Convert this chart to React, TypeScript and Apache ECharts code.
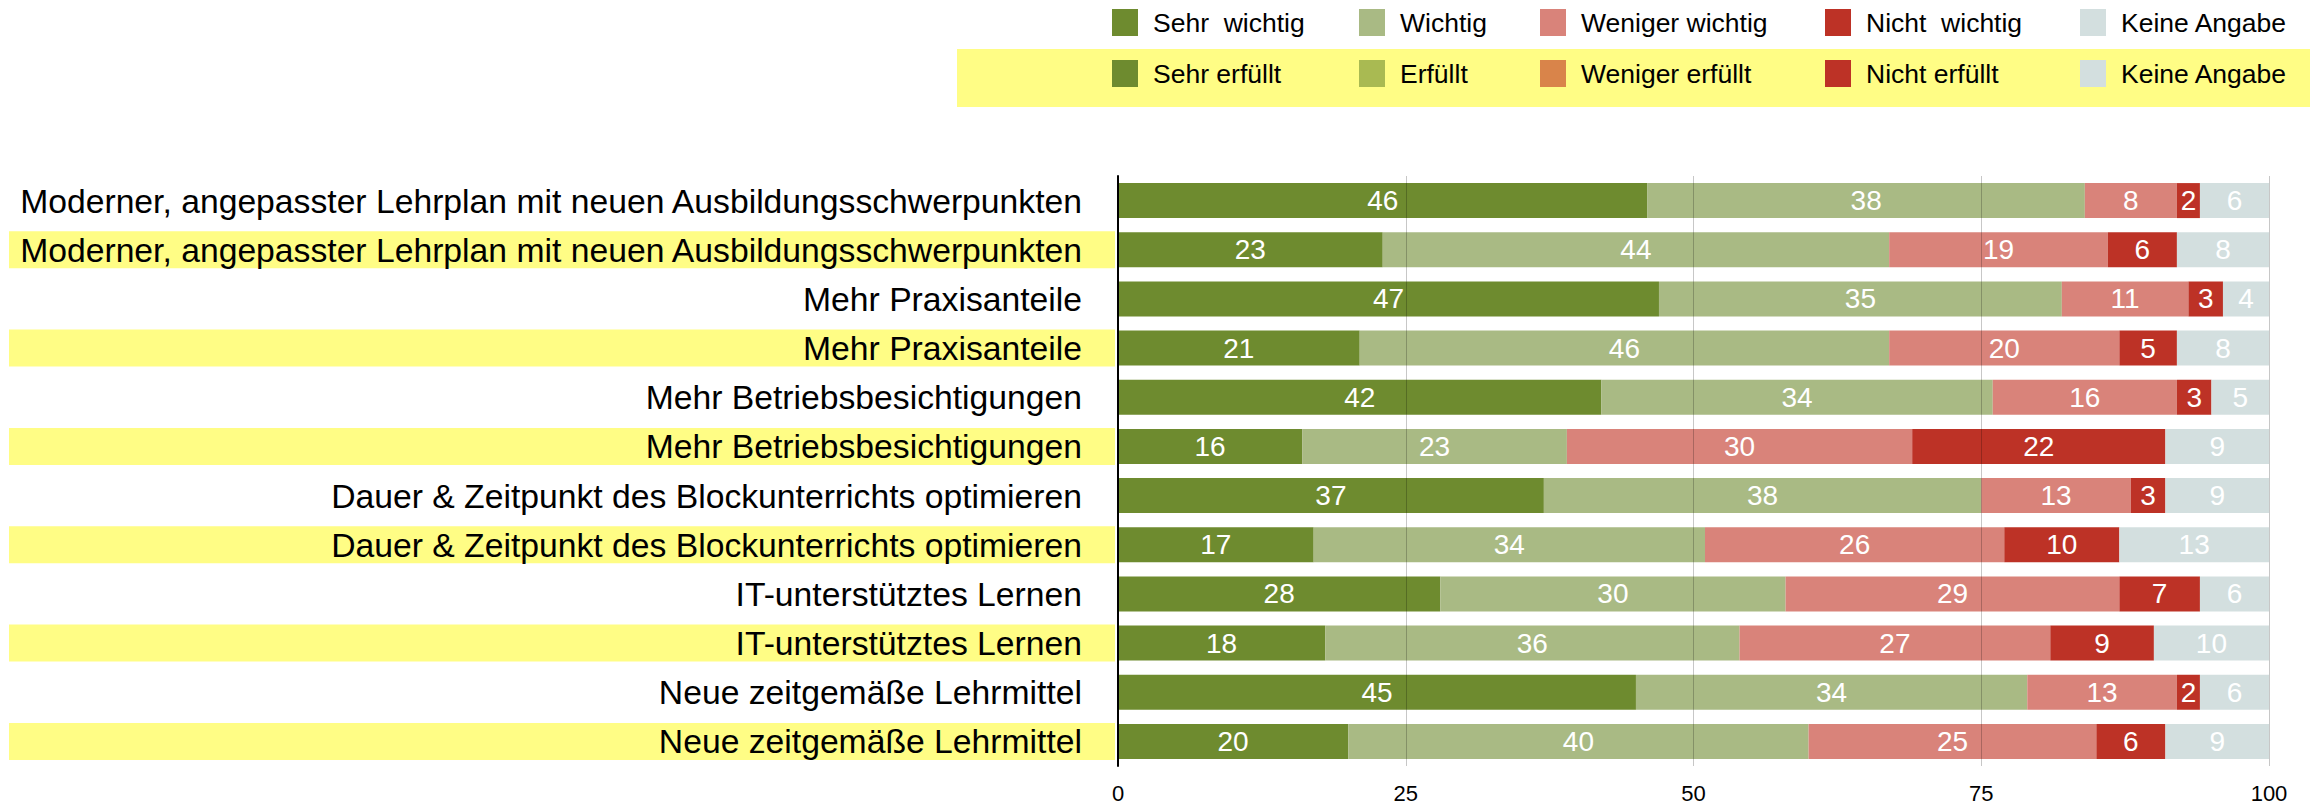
import React, { useEffect, useRef } from 'react';
import * as echarts from 'echarts';

// Topics (each appears twice: importance row, then fulfilment row highlighted in yellow)
const topics = [
  'Moderner, angepasster Lehrplan mit neuen Ausbildungsschwerpunkten',
  'Mehr Praxisanteile',
  'Mehr Betriebsbesichtigungen',
  'Dauer & Zeitpunkt des Blockunterrichts optimieren',
  'IT-unterstütztes Lernen',
  'Neue zeitgemäße Lehrmittel',
];

// Importance ratings (white rows)
const sehrWichtig = [46, 47, 42, 37, 28, 45];
const wichtig = [38, 35, 34, 38, 30, 34];
const wenigerWichtig = [8, 11, 16, 13, 29, 13];
const nichtWichtig = [2, 3, 3, 3, 7, 2];
const keineAngabeWichtig = [6, 4, 5, 9, 6, 6];

// Fulfilment ratings (yellow rows)
const sehrErfuellt = [23, 21, 16, 17, 18, 20];
const erfuellt = [44, 46, 23, 34, 36, 40];
const wenigerErfuellt = [19, 20, 30, 26, 27, 25];
const nichtErfuellt = [6, 5, 22, 10, 9, 6];
const keineAngabeErfuellt = [8, 8, 9, 13, 10, 9];

const wichtigNames = ['Sehr  wichtig', 'Wichtig', 'Weniger wichtig', 'Nicht  wichtig', 'Keine Angabe'];
const erfuelltNames = ['Sehr erfüllt', 'Erfüllt', 'Weniger erfüllt', 'Nicht erfüllt', 'Keine Angabe'];

const xTicks = { min: 0, max: 100, interval: 25 };

const barColors = ['#6E8B2F', '#A9BA84', '#D9837A', '#BD3226', '#D3DFDF'];
const erfuelltLegendColors = ['#6E8B2F', '#A9BA52', '#D9844A', '#BD3226', '#D3DFDF'];
const YELLOW = '#FFFD85';
const FONT = "'Liberation Sans', Arial, Helvetica, sans-serif";

export default function App() {
  const ref = useRef<HTMLDivElement>(null);

  useEffect(() => {
    const chart = echarts.init(ref.current!, null, { renderer: 'svg' });

    const categories = topics.flatMap((t) => [t, t]);
    const wichtigData = [sehrWichtig, wichtig, wenigerWichtig, nichtWichtig, keineAngabeWichtig];
    const erfuelltData = [sehrErfuellt, erfuellt, wenigerErfuellt, nichtErfuellt, keineAngabeErfuellt];

    const interleave = (vals: number[], slot: number) =>
      categories.map((_, i) => (i % 2 === slot ? vals[Math.floor(i / 2)] : '-'));

    const labelStyle = {
      show: true,
      position: 'inside',
      color: '#fff',
      fontSize: 28,
      fontFamily: FONT,
    };

    const series: any[] = [
      ...wichtigNames.map((name, k) => ({
        type: 'bar',
        name,
        stack: 'total',
        barWidth: 35,
        data: interleave(wichtigData[k], 0),
        itemStyle: { color: barColors[k] },
        label: labelStyle,
      })),
      ...erfuelltNames.map((name, k) => ({
        type: 'bar',
        name,
        stack: 'total',
        barWidth: 35,
        data: interleave(erfuelltData[k], 1),
        itemStyle: { color: barColors[k] },
        label: labelStyle,
      })),
    ];

    const legendRowTops = [9, 60];
    const legendColLefts = [1112, 1359, 1540, 1825, 2080];
    const legends: any[] = [];
    [wichtigNames, erfuelltNames].forEach((names, r) =>
      names.forEach((name, k) =>
        legends.push({
          left: legendColLefts[k],
          top: legendRowTops[r],
          padding: 0,
          itemWidth: 26,
          itemHeight: 27,
          icon: 'rect',
          selectedMode: false,
          data: [
            {
              name,
              itemStyle: { color: r === 0 ? barColors[k] : erfuelltLegendColors[k] },
            },
          ],
          textStyle: { fontSize: 26.5, color: '#000', fontFamily: FONT, padding: [0, 0, 0, 10] },
        })
      )
    );

    const labelFont = { fontSize: 33.7, color: '#000', fontFamily: FONT };

    chart.setOption({
      animation: false,
      backgroundColor: '#fff',
      textStyle: { fontFamily: FONT },
      graphic: [
        {
          type: 'rect',
          left: 957,
          top: 49,
          z: 0,
          shape: { width: 1353, height: 58 },
          style: { fill: YELLOW },
        },
      ],
      legend: legends,
      grid: { left: 1118, right: 52, top: 176, bottom: 39, containLabel: false },
      xAxis: {
        type: 'value',
        min: xTicks.min,
        max: xTicks.max,
        interval: xTicks.interval,
        z: 3,
        axisLine: { show: false },
        axisTick: { show: false },
        axisLabel: { fontSize: 22, color: '#000', margin: 16, fontFamily: FONT },
        splitLine: { show: true, lineStyle: { color: 'rgba(0,0,0,0.22)', width: 1 } },
      },
      yAxis: {
        type: 'category',
        inverse: true,
        data: categories,
        z: 4,
        axisTick: { show: false },
        axisLine: { show: true, lineStyle: { color: '#000', width: 2 } },
        axisLabel: {
          interval: 0,
          margin: 3,
          formatter: (v: string, i: number) => (i % 2 === 1 ? `{h|${v}}{hp| }` : `{n|${v}}{np| }`),
          rich: {
            h: { ...labelFont, backgroundColor: YELLOW, width: 1073, height: 37, lineHeight: 37, align: 'right' },
            hp: { ...labelFont, backgroundColor: YELLOW, width: 33, height: 37, lineHeight: 37, align: 'right' },
            n: { ...labelFont, width: 1073, height: 37, lineHeight: 37, align: 'right' },
            np: { ...labelFont, width: 33, height: 37, lineHeight: 37, align: 'right' },
          },
        },
      },
      series,
    });

    return () => chart.dispose();
  }, []);

  return (
    <div
      ref={ref}
      style={{ position: 'fixed', left: 0, top: 0, width: 2321, height: 805, background: '#fff' }}
    />
  );
}
